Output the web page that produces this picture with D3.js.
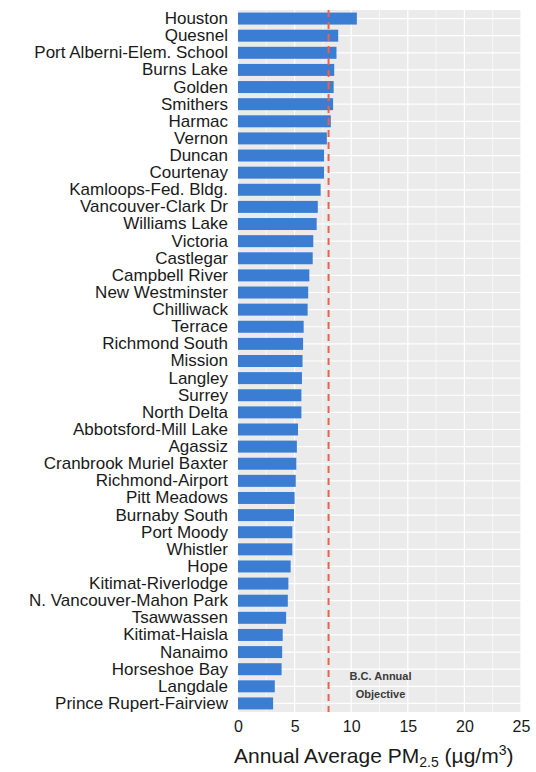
<!DOCTYPE html>
<html>
<head>
<meta charset="utf-8">
<script src="https://cdn.jsdelivr.net/npm/d3@7"></script>
<style>
  body { margin: 0; background: #fff; }
  svg { display: block; font-family: "Liberation Sans", Arial, sans-serif; }
  .grid line { stroke: #fff; }
  .y.axis text { font-size: 17px; fill: #1a1a1a; }
  .x.axis text { font-size: 16px; fill: #1a1a1a; }
  .axis path, .axis line { display: none; }
</style>
</head>
<body>
<div id="chart"></div>
<script>
"use strict";

// stations, highest to lowest
const stations = [
  "Houston", "Quesnel", "Port Alberni-Elem. School", "Burns Lake", "Golden",
  "Smithers", "Harmac", "Vernon", "Duncan", "Courtenay",
  "Kamloops-Fed. Bldg.", "Vancouver-Clark Dr", "Williams Lake", "Victoria", "Castlegar",
  "Campbell River", "New Westminster", "Chilliwack", "Terrace", "Richmond South",
  "Mission", "Langley", "Surrey", "North Delta", "Abbotsford-Mill Lake",
  "Agassiz", "Cranbrook Muriel Baxter", "Richmond-Airport", "Pitt Meadows", "Burnaby South",
  "Port Moody", "Whistler", "Hope", "Kitimat-Riverlodge", "N. Vancouver-Mahon Park",
  "Tsawwassen", "Kitimat-Haisla", "Nanaimo", "Horseshoe Bay", "Langdale",
  "Prince Rupert-Fairview"
];

// annual average PM2.5 (ug/m3)
const pm25 = [
  10.5, 8.85, 8.7, 8.5, 8.45,
  8.4, 8.2, 7.85, 7.6, 7.6,
  7.3, 7.05, 6.95, 6.65, 6.6,
  6.3, 6.2, 6.15, 5.8, 5.75,
  5.7, 5.65, 5.6, 5.6, 5.3,
  5.2, 5.15, 5.1, 5.0, 4.95,
  4.8, 4.8, 4.65, 4.45, 4.4,
  4.25, 3.95, 3.9, 3.85, 3.25,
  3.1
];

const xTicks = [0, 5, 10, 15, 20, 25];
const xMinorTicks = [2.5, 7.5, 12.5, 17.5, 22.5];
const objective = 8;
const objectiveLabel = ["B.C. Annual", "Objective"];

const data = stations.map((s, i) => ({ station: s, value: pm25[i] }));

const w = 536, h = 772;
const margins = { top: 10, right: 15, bottom: 60, left: 238 };
const width = w - margins.left - margins.right;
const height = h - margins.top - margins.bottom;

const svg = d3.select("#chart").append("svg")
  .attr("width", w)
  .attr("height", h);

const x = d3.scaleLinear().domain([0, 25]).range([0, width]);
const y = d3.scaleBand()
  .domain(stations)
  .range([0, height])
  .paddingInner(0.3)
  .paddingOuter(0.15);

const chart = svg.append("g")
  .attr("transform", `translate(${margins.left}, ${margins.top})`);

// panel background
chart.append("rect")
  .attr("width", width)
  .attr("height", height)
  .attr("fill", "#ebebeb");

// grid
const grid = chart.append("g").attr("class", "grid");
grid.selectAll(".minor")
  .data(xMinorTicks)
  .enter().append("line")
  .attr("x1", d => x(d)).attr("x2", d => x(d))
  .attr("y1", 0).attr("y2", height)
  .attr("stroke-width", 0.6);
grid.selectAll(".major")
  .data(xTicks)
  .enter().append("line")
  .attr("x1", d => x(d)).attr("x2", d => x(d))
  .attr("y1", 0).attr("y2", height)
  .attr("stroke-width", 1.2);
grid.selectAll(".hline")
  .data(stations)
  .enter().append("line")
  .attr("x1", 0).attr("x2", width)
  .attr("y1", d => y(d) + y.bandwidth() / 2)
  .attr("y2", d => y(d) + y.bandwidth() / 2)
  .attr("stroke-width", 1.2);

// bars
chart.selectAll(".bar")
  .data(data)
  .enter().append("rect")
  .attr("class", "bar")
  .attr("x", x(0))
  .attr("y", d => y(d.station))
  .attr("width", d => x(d.value) - x(0))
  .attr("height", y.bandwidth())
  .attr("fill", "#3b7dd3");

// objective line
chart.append("line")
  .attr("x1", x(objective)).attr("x2", x(objective))
  .attr("y1", 0).attr("y2", height)
  .attr("stroke", "#e8634d")
  .attr("stroke-width", 2)
  .attr("stroke-dasharray", "7,5");

chart.selectAll(".objlabel")
  .data(objectiveLabel)
  .enter().append("text")
  .attr("x", x(objective) + 52)
  .attr("y", (d, i) => height - 32 + i * 18)
  .attr("text-anchor", "middle")
  .attr("font-size", "11px")
  .attr("font-weight", "bold")
  .attr("fill", "#3a3a3a")
  .text(d => d);

// axes
chart.append("g")
  .attr("class", "y axis")
  .call(d3.axisLeft(y).tickSize(0).tickPadding(10));

chart.append("g")
  .attr("class", "x axis")
  .attr("transform", `translate(0, ${height})`)
  .call(d3.axisBottom(x).tickValues(xTicks).tickSize(0).tickPadding(9));

// axis title
const title = svg.append("text")
  .attr("x", 234)
  .attr("y", 763)
  .attr("font-size", "21px")
  .attr("fill", "#1a1a1a");
title.append("tspan").text("Annual Average PM");
title.append("tspan").attr("dy", 4).attr("font-size", "14px").text("2.5");
title.append("tspan").attr("dy", -4).text(" (\u00b5g/m");
title.append("tspan").attr("dy", -8).attr("font-size", "14px").text("3");
title.append("tspan").attr("dy", 8).text(")");
</script>
</body>
</html>
